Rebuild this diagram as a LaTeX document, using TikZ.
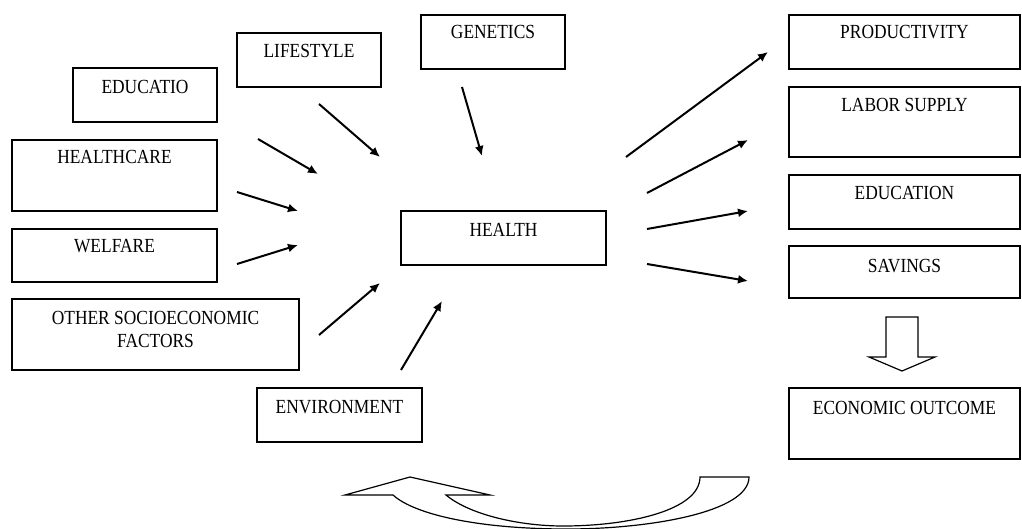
\documentclass[tikz,border=0pt]{standalone}
\usepackage{fontspec}
\setmainfont{Liberation Serif}[FakeStretch=0.87]
\usetikzlibrary{arrows.meta}

\begin{document}
\begin{tikzpicture}[>=Latex,x=0.5pt,y=-0.5pt]
  \tikzset{
    box/.style={draw,line width=1.3pt,inner ysep=0pt,align=center,
      font=\fontsize{10}{11.5}\selectfont},
    link/.style={->,line width=1pt,>={Latex[length=5pt,width=4.5pt]}},
    hollow/.style={draw,line width=0.6pt,fill=white,line join=miter}
  }
  \useasboundingbox (0,0) rectangle (1022,529);

  % factors
  \node[box,minimum width=72pt,text height=13pt,text depth=14pt] (educ) at (145,95) {EDUCATIO};
  \node[box,minimum width=72pt,text height=12.5pt,text depth=14.5pt] (life) at (309,60) {LIFESTYLE};
  \node[box,minimum width=72pt,text height=12pt,text depth=15pt] (gen) at (493,42) {GENETICS};
  \node[box,minimum width=102.5pt,text height=12pt,text depth=23.5pt] (hcare) at (114.5,175.5) {HEALTHCARE};
  \node[box,minimum width=102.5pt,text height=12pt,text depth=14.5pt] (welf) at (114.5,255.5) {WELFARE};
  \node[box,minimum width=143.5pt,text height=24pt,text depth=11.5pt] (other) at (155.5,334.5) {OTHER SOCIOECONOMIC\\FACTORS};
  \node[box,minimum width=82.5pt,text height=12.5pt,text depth=14.5pt] (env) at (339.5,415) {ENVIRONMENT};
  \node[box,minimum width=102.5pt,text height=12.5pt,text depth=14.5pt] (health) at (503.5,238) {HEALTH};

  % outcomes
  \node[box,minimum width=115.5pt,text height=12pt,text depth=15pt] (prod) at (904.5,42) {PRODUCTIVITY};
  \node[box,minimum width=115.5pt,text height=12.5pt,text depth=22.5pt] (labor) at (904.5,122) {LABOR SUPPLY};
  \node[box,minimum width=115.5pt,text height=12.5pt,text depth=14.5pt] (educn) at (904.5,202) {EDUCATION};
  \node[box,minimum width=115.5pt,text height=13pt,text depth=13pt] (sav) at (904.5,272) {SAVINGS};
  \node[box,minimum width=115.5pt,text height=13pt,text depth=22.5pt] (econ) at (904.5,423.5) {ECONOMIC OUTCOME};

  % arrow ends
  \coordinate (educ s) at (258,139);   \coordinate (educ t) at (318,174);
  \coordinate (life s) at (319,104);   \coordinate (life t) at (380,157);
  \coordinate (gen s) at (462,87);     \coordinate (gen t) at (482,156);
  \coordinate (hcare s) at (237,192);  \coordinate (hcare t) at (298,211);
  \coordinate (welf s) at (237,264);   \coordinate (welf t) at (298,245);
  \coordinate (other s) at (319,335);  \coordinate (other t) at (380,283);
  \coordinate (env s) at (401,370);    \coordinate (env t) at (442,301);
  \coordinate (prod s) at (626,157);   \coordinate (prod t) at (768,52);
  \coordinate (labor s) at (647,193);  \coordinate (labor t) at (748,140);
  \coordinate (educn s) at (647,229);  \coordinate (educn t) at (748,211);
  \coordinate (sav s) at (647,264);    \coordinate (sav t) at (748,281);

  \foreach \n in {educ,life,gen,hcare,welf,other,env,prod,labor,educn,sav}
    \draw[link] (\n\space s) -- (\n\space t);

  % block arrows
  \path[hollow] (886,317) -- (918,317) -- (918,357) -- (935,357) -- (902,371)
    -- (869,357) -- (886,357) -- cycle;
  \path[hollow] (393,495) -- (345,495) -- (410,477) -- (490,495) -- (446,495)
    .. controls (470,515) and (520,526) .. (563,526)
    .. controls (630,526) and (700,510) .. (700,477)
    -- (749,477)
    .. controls (749,512) and (650,529) .. (567,529)
    .. controls (480,529) and (415,515) .. cycle;
\end{tikzpicture}
\end{document}
